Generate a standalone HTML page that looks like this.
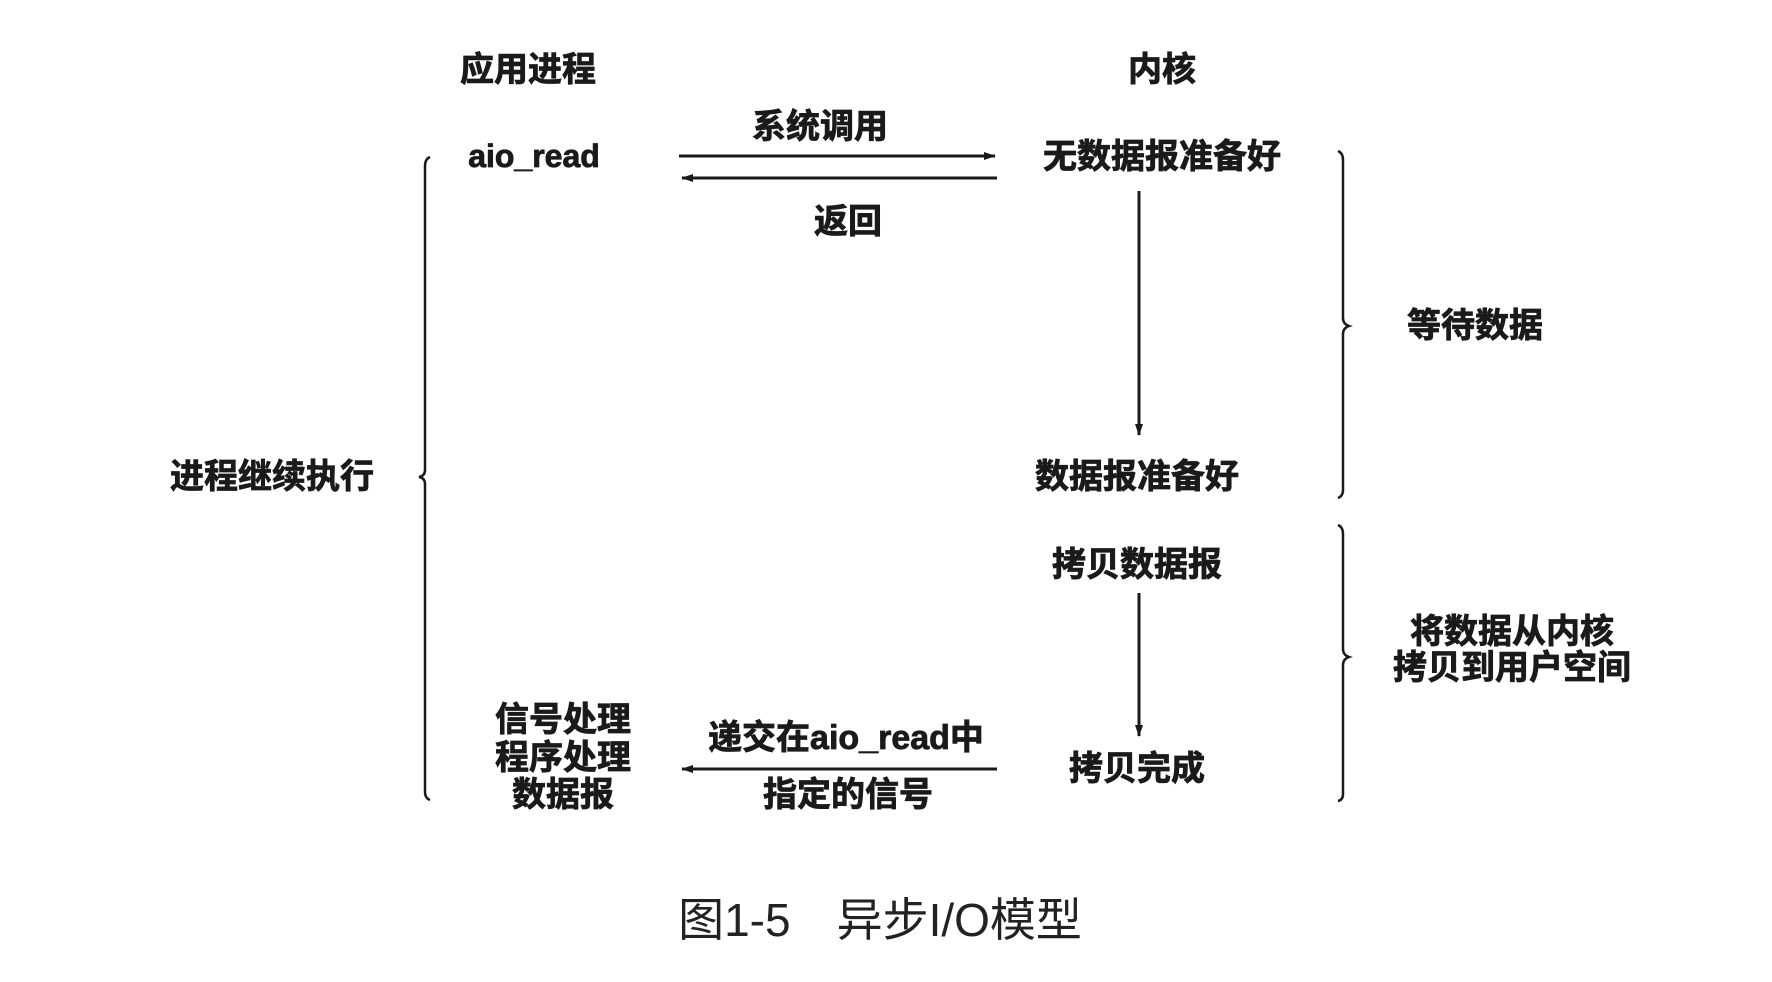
<!DOCTYPE html>
<html><head><meta charset="utf-8"><style>
html,body{margin:0;padding:0;background:#fff;}
svg{display:block}
text{font-family:"Liberation Sans","Noto Sans CJK SC",sans-serif;font-weight:bold;fill:#1a1a1a;text-anchor:middle;dominant-baseline:central;}
g.t text{stroke:#1a1a1a;stroke-width:0.8;}
</style></head><body>
<svg width="1772" height="982" viewBox="0 0 1772 982" xmlns="http://www.w3.org/2000/svg">
<defs>
<marker id="a" markerWidth="12" markerHeight="10" refX="11" refY="5" orient="auto" markerUnits="userSpaceOnUse">
<path d="M0,1 L12,5 L0,9 Z" fill="#1a1a1a"/></marker>
</defs>
<g font-size="34" class="t">
<text x="528" y="70">应用进程</text>
<text x="1162" y="70">内核</text>
<text x="534" y="156" font-family="Liberation Serif,serif" font-size="32">aio_read</text>
<text x="820" y="127">系统调用</text>
<text x="848" y="222">返回</text>
<text x="1162" y="157">无数据报准备好</text>
<text x="1137" y="477">数据报准备好</text>
<text x="1137" y="565">拷贝数据报</text>
<text x="1137" y="769">拷贝完成</text>
<text x="846" y="738">递交在aio_read中</text>
<text x="848" y="795">指定的信号</text>
<text x="563" y="720">信号处理</text>
<text x="563" y="758">程序处理</text>
<text x="563" y="795">数据报</text>
<text x="272" y="477">进程继续执行</text>
<text x="1475" y="326">等待数据</text>
<text x="1512" y="632">将数据从内核</text>
<text x="1512" y="668">拷贝到用户空间</text>
</g>
<g stroke="#1a1a1a" stroke-width="3" fill="none">
<line x1="679" y1="156" x2="995" y2="156" marker-end="url(#a)"/>
<line x1="997" y1="178" x2="682" y2="178" marker-end="url(#a)"/>
<line x1="1139" y1="191" x2="1139" y2="435" marker-end="url(#a)"/>
<line x1="1139" y1="593" x2="1139" y2="736" marker-end="url(#a)"/>
<line x1="997" y1="769" x2="682" y2="769" marker-end="url(#a)"/>
<path d="M430,157 Q425,159 425,166 L425,470 Q425,476 419,477 Q425,478 425,484 L425,792 Q425,798 430,800" stroke-width="2.5"/>
<path d="M1338,151 Q1343,153 1343,160 L1343,318 Q1343,324 1349,326 Q1343,328 1343,334 L1343,490 Q1343,496 1338,498" stroke-width="2.5"/>
<path d="M1338,525 Q1343,527 1343,534 L1343,649 Q1343,655 1349,657 Q1343,659 1343,665 L1343,794 Q1343,800 1338,801" stroke-width="2.5"/>
</g>
<text x="880" y="920" font-size="46" style="font-weight:normal;fill:#222">图1-5　异步I/O模型</text>
</svg>
</body></html>
